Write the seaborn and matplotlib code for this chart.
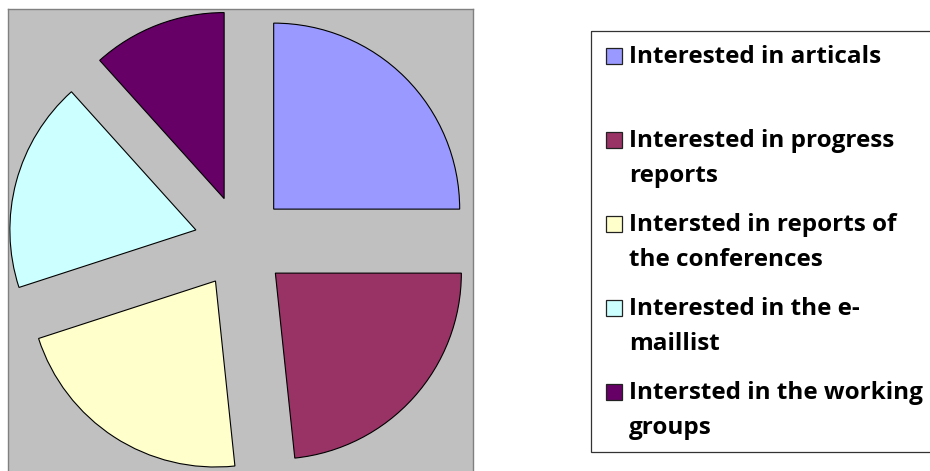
import matplotlib
matplotlib.use("Agg")
import matplotlib.pyplot as plt
import seaborn as sns
from matplotlib.patches import Rectangle

# data
labels = ["Interested in articals",
          "Interested in progress\nreports",
          "Intersted in reports of\nthe conferences",
          "Interested in the e-\nmaillist",
          "Intersted in the working\ngroups"]
values = [15, 14, 13, 11, 7]
colors = ["#9999FF", "#993366", "#FFFFCC", "#CCFFFF", "#660066"]

sns.set_style("white")
plt.rcParams["font.family"] = ["Open Sans", "DejaVu Sans"]

W, H = 930, 471
fig = plt.figure(figsize=(W / 100, H / 100), dpi=100)

# pie plot area (pixel box)
x0, x1, y0, y1 = 8, 473, 9, 475
cx, cy, r = 240.8, 242, 186
ax = fig.add_axes([x0 / W, 1 - y1 / H, (x1 - x0) / W, (y1 - y0) / H])
ax.pie(values, colors=sns.color_palette(colors), startangle=90, counterclock=False,
       explode=[0.25] * len(values), radius=1,
       wedgeprops=dict(edgecolor="black", linewidth=0.8))
ax.set_frame_on(True)
ax.set_facecolor("#C0C0C0")
ax.set_xlim((x0 - cx) / r, (x1 - cx) / r)
ax.set_ylim((cy - y1) / r, (cy - y0) / r)
ax.set_aspect("auto")
for s in ax.spines.values():
    s.set_visible(True)
    s.set_color("#808080")
    s.set_linewidth(1)

# legend drawn by hand so the swatch sits on the first line
lax = fig.add_axes([0, 0, 1, 1])
lax.set_xlim(0, W)
lax.set_ylim(H, 0)
lax.axis("off")
lax.add_patch(Rectangle((590.5, 30.5), 400, 421.5, fill=False, edgecolor="#333333",
                        linewidth=0.9, clip_on=False))
for i, (lab, col) in enumerate(zip(labels, colors)):
    top = 48.3 + 84 * i
    lax.add_patch(Rectangle((606, top), 16, 16, facecolor=col, edgecolor="#222222", linewidth=0.9))
    for j, line in enumerate(lab.split("\n")):
        lax.text(629, 63.3 + 84 * i + 35 * j, line, fontsize=17.5, fontweight="bold",
                 va="baseline", ha="left", color="black")

fig.savefig("out.png", dpi=100)
